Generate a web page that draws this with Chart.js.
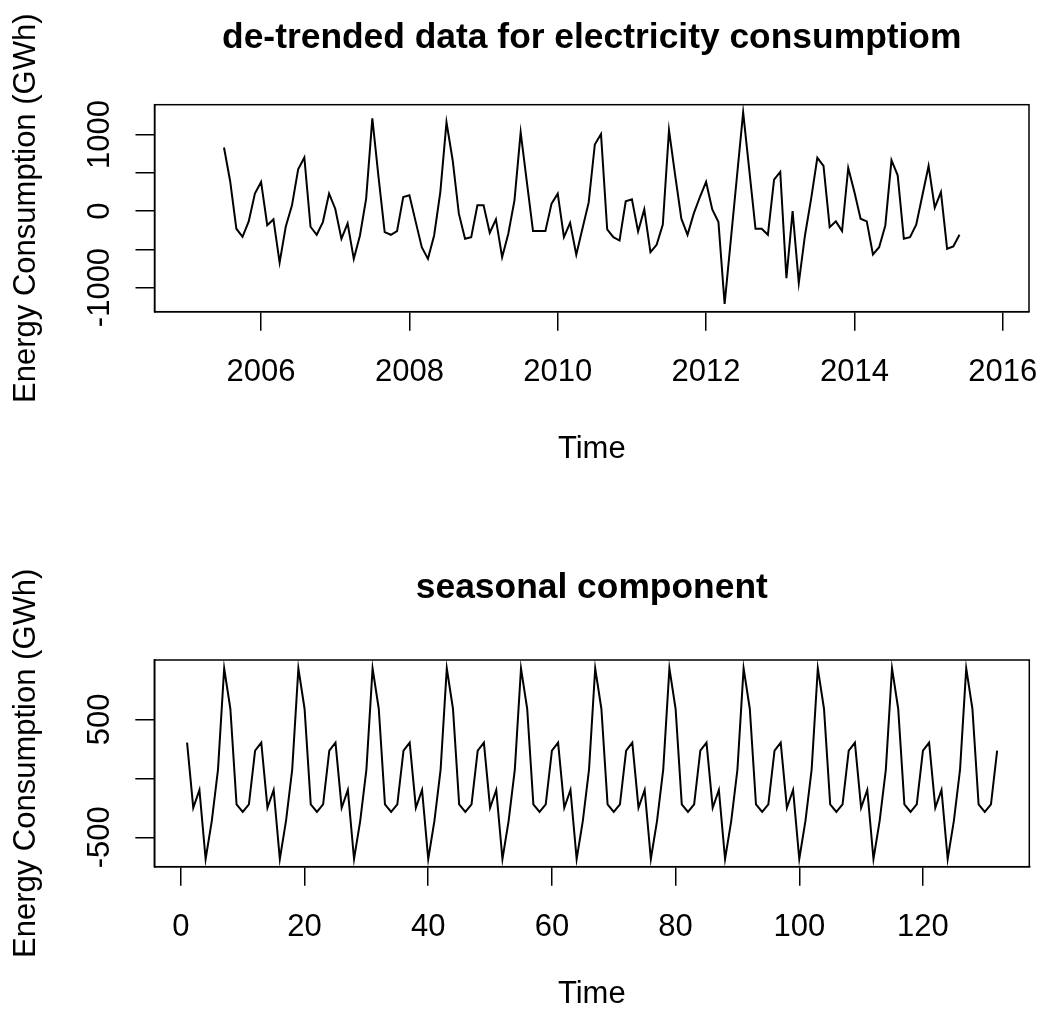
<!DOCTYPE html>
<html><head><meta charset="utf-8">
<script src="https://cdn.jsdelivr.net/npm/chart.js@4.4.0/dist/chart.umd.min.js"></script>
<style>
html,body{margin:0;padding:0;background:#fff;width:1043px;height:1017px;overflow:hidden}
canvas{position:absolute;left:0}
#c1{top:0}
#c2{top:508px}
</style></head><body>
<canvas id="c1" width="1043" height="508"></canvas>
<canvas id="c2" width="1043" height="509"></canvas>
<script>
// ---------- data ----------
const topTitle = 'de-trended data for electricity consumptiom';
const bottomTitle = 'seasonal component';
const xTitle = 'Time';
const yTitle = 'Energy Consumption (GWh)';

// monthly series starting July 2005 (time value 2005.5), 12 observations per year
const detrendedStart = 2005.5;
const detrendedFreq = 12;
const detrended = [
  832, 390, -231, -336, -135, 228, 381, -184, -109, -673, -201, 75,
  547, 701, -205, -310, -144, 228, 31, -362, -161, -625, -319, 163,
  1213, 446, -275, -310, -262, 184, 206, -135, -472, -625, -319, 249,
  1160, 665, -34, -362, -341, 75, 75, -284, -109, -604, -297, 140,
  1029, 381, -262, -262, -262, 97, 228, -341, -153, -572, -227, 110,
  871, 1007, -240, -341, -385, 127, 154, -266, 22, -538, -441, -175,
  1059, 468, -100, -310, -34, 184, 381, 22, -144, -1215, -380, 455,
  1291, 530, -231, -231, -310, 412, 512, -879, 0, -940, -319, 163,
  696, 590, -210, -135, -262, 564, 249, -100, -135, -568, -472, -188,
  665, 468, -362, -341, -178, 206, 590, 45, 249, -493, -463, -310
];

// seasonal component, index 1..132
const seasonal = [
  302, -249, -98, -684, -360, 74, 932, 590, -220, -284, -220, 234,
  302, -249, -98, -684, -360, 74, 932, 590, -220, -284, -220, 234,
  302, -249, -98, -684, -360, 74, 932, 590, -220, -284, -220, 234,
  302, -249, -98, -684, -360, 74, 932, 590, -220, -284, -220, 234,
  302, -249, -98, -684, -360, 74, 932, 590, -220, -284, -220, 234,
  302, -249, -98, -684, -360, 74, 932, 590, -220, -284, -220, 234,
  302, -249, -98, -684, -360, 74, 932, 590, -220, -284, -220, 234,
  302, -249, -98, -684, -360, 74, 932, 590, -220, -284, -220, 234,
  302, -249, -98, -684, -360, 74, 932, 590, -220, -284, -220, 234,
  302, -249, -98, -684, -360, 74, 932, 590, -220, -284, -220, 234,
  302, -249, -98, -684, -360, 74, 932, 590, -220, -284, -220, 234
];

const topXTicks = [2006, 2008, 2010, 2012, 2014, 2016];
const topYTicks = [-1000, -500, 0, 500, 1000];
const topYLabels = ['-1000', '', '0', '', '1000'];
const botXTicks = [0, 20, 40, 60, 80, 100, 120];
const botYTicks = [-500, 0, 500];
const botYLabels = ['-500', '', '500'];

// ---------- drawing ----------
const FONT = '"Liberation Sans", Arial, Helvetica, sans-serif';
const BASE = 31;

const rDecor = {
  id: 'rDecor',
  afterDraw(chart, args, opts) {
    const {ctx, chartArea: a} = chart;
    ctx.save();
    ctx.strokeStyle = '#000';
    ctx.lineWidth = 1.5;
    ctx.strokeRect(a.left, a.top, a.right - a.left, a.bottom - a.top);
    ctx.fillStyle = '#000';
    // main title centred over the plot region
    ctx.font = 'bold 35.4px ' + FONT;
    ctx.textAlign = 'center';
    ctx.textBaseline = 'middle';
    ctx.fillText(opts.title, (a.left + a.right) / 2, opts.titleY);
    // rotated y tick labels
    const ys = chart.scales.y;
    ctx.font = BASE + 'px ' + FONT;
    opts.values.forEach((v, i) => {
      const lab = opts.labels[i];
      if (!lab) return;
      const py = ys.getPixelForValue(v);
      ctx.save();
      ctx.translate(opts.labelX, py);
      ctx.rotate(-Math.PI / 2);
      ctx.fillText(lab, 0, 0);
      ctx.restore();
    });
    ctx.restore();
  }
};

function makeChart(id, c) {
  const axisGrid = {display: true, drawOnChartArea: false, drawTicks: true, tickLength: 19, color: '#000', lineWidth: 1.5};
  return new Chart(document.getElementById(id), {
    type: 'line',
    data: {datasets: [{
      data: c.points,
      borderColor: '#000',
      borderWidth: 2,
      pointRadius: 0,
      tension: 0,
      fill: false
    }]},
    options: {
      responsive: false,
      devicePixelRatio: 1,
      animation: false,
      events: [],
      layout: {padding: {left: 0, right: c.padRight, top: c.chartTop, bottom: 0}},
      plugins: {
        legend: {display: false},
        tooltip: {enabled: false},
        title: {display: false},
        rDecor: {values: c.yTicks, labels: c.yLabels, labelX: 100.5, title: c.title, titleY: c.titleY}
      },
      scales: {
        x: {
          type: 'linear', min: c.xMin, max: c.xMax,
          afterBuildTicks: s => { s.ticks = c.xTicks.map(v => ({value: v})); },
          afterFit: s => { s.height = c.xHeight; s.paddingLeft = 0; s.paddingRight = 0; },
          grid: axisGrid,
          border: {display: true, color: '#000', width: 1.5},
          ticks: {color: '#000', font: {family: FONT, size: BASE}, padding: c.xTickPad, maxRotation: 0, autoSkip: false,
                  callback: v => String(v)},
          title: {display: true, text: xTitle, color: '#000', font: {family: FONT, size: BASE, lineHeight: 1.2},
                  padding: {top: 0, bottom: c.xTitleBottom}}
        },
        y: {
          type: 'linear', min: c.yMin, max: c.yMax,
          afterBuildTicks: s => { s.ticks = c.yTicks.map(v => ({value: v})); },
          afterFit: s => { s.width = c.yWidth; s.paddingTop = 0; s.paddingBottom = 0; },
          grid: axisGrid,
          border: {display: true, color: '#000', width: 1.5},
          ticks: {display: false},
          title: {display: true, text: yTitle, color: '#000', font: {family: FONT, size: BASE, lineHeight: 1.2},
                  padding: {top: 8, bottom: 0}}
        }
      }
    },
    plugins: [rDecor]
  });
}

makeChart('c1', {
  points: detrended.map((v, i) => ({x: detrendedStart + i / detrendedFreq, y: v})),
  title: topTitle, titleY: 38, chartTop: 104.7,
  xMin: 2004.563, xMax: 2016.354, xTicks: topXTicks,
  yMin: -1316, yMax: 1391, yTicks: topYTicks, yLabels: topYLabels,
  padRight: 14, yWidth: 154.5, xHeight: 196.3, xTickPad: 23, xTitleBottom: 40
});

makeChart('c2', {
  points: seasonal.map((v, i) => ({x: i + 1, y: v})),
  title: bottomTitle, titleY: 80, chartTop: 152,
  xMin: -4.3, xMax: 137.2, xTicks: botXTicks,
  yMin: -749, yMax: 1003, yTicks: botYTicks, yLabels: botYLabels,
  padRight: 13.7, yWidth: 154.3, xHeight: 150.3, xTickPad: 23, xTitleBottom: 4
});
</script></body></html>
